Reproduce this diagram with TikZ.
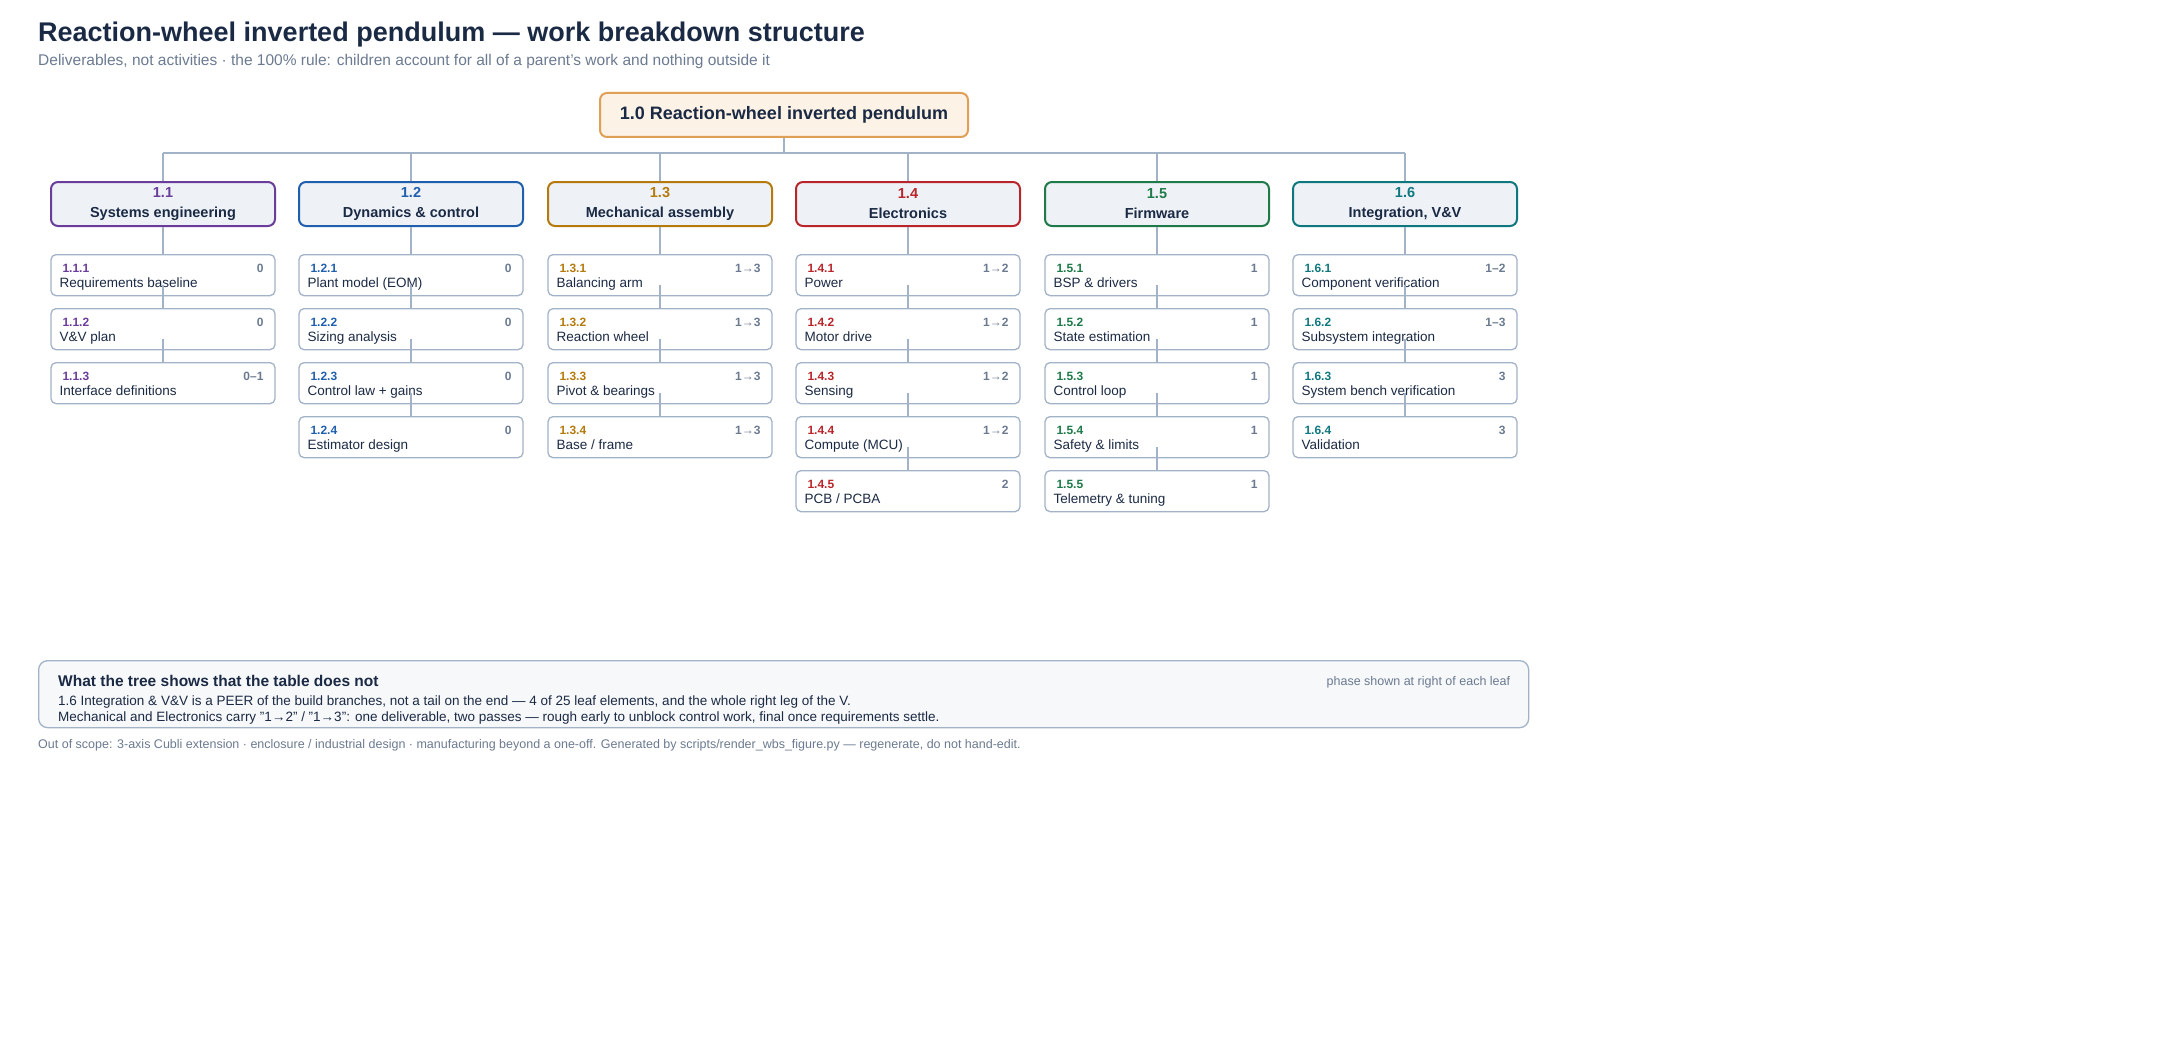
\documentclass[tikz,border=0pt]{standalone}
\usepackage{fontspec}
\setmainfont{Liberation Sans}
\usetikzlibrary{positioning}
\usetikzlibrary{calc}
\definecolor{ink}{HTML}{1B2A44}
\definecolor{muted}{HTML}{6B7A90}
\definecolor{wire}{HTML}{A3B3C7}
\definecolor{panel}{HTML}{EEF2F7}
\definecolor{note}{HTML}{F7F8FA}
\definecolor{rootfill}{HTML}{FDF2E6}
\definecolor{rootline}{HTML}{DFA055}
\definecolor{cA}{HTML}{6A3D9A}
\definecolor{cB}{HTML}{1F5FAD}
\definecolor{cC}{HTML}{B47A0C}
\definecolor{cD}{HTML}{B8262B}
\definecolor{cE}{HTML}{1E7A48}
\definecolor{cF}{HTML}{0F787E}
\tikzset{
  wbs/.style = {draw=wire, line width=1.3pt},
  rootbox/.style = {draw=rootline, fill=rootfill, line width=2pt, rounded corners=7pt,
    minimum width=368pt, minimum height=44pt, font=\fontsize{18}{22}\selectfont\bfseries, text=ink},
  branch/.style = {fill=panel, line width=2pt, rounded corners=7pt,
    minimum width=224pt, minimum height=44pt, align=center, text=ink,
    font=\fontsize{14.5}{20}\selectfont\bfseries},
  leaf/.style = {draw=wire, fill=white, line width=1.3pt, rounded corners=5pt,
    minimum width=224pt, minimum height=41pt},
}
\begin{document}
\begin{tikzpicture}[x=1pt,y=-1pt]
  % heading
  \node [anchor=base west, inner sep=0pt, text=ink, font=\fontsize{27}{32}\selectfont\bfseries] (title) at (38,42)
    {Reaction-wheel inverted pendulum — work breakdown structure};
  \node [anchor=base west, inner sep=0pt, text=muted, font=\fontsize{15.5}{19}\selectfont] (subtitle) at (38,66)
    {Deliverables, not activities · the 100\% rule: children account for all of a parent's work and nothing outside it};

  % root
  \node [rootbox] (root) at (784,115) {1.0 Reaction-wheel inverted pendulum};
  \coordinate (bus) at (784,153);
  \draw [wbs] (root.south) -- (bus);
  \coordinate (busL) at (163,153);
  \coordinate (busR) at (1405,153);
  \draw [wbs] (busL) -- (busR);

  % branches
  \foreach \n/\x/\col/\name in {1/163/cA/Systems engineering, 2/411/cB/Dynamics \& control,
      3/660/cC/Mechanical assembly, 4/908/cD/Electronics, 5/1157/cE/Firmware, 6/1405/cF/{Integration, V\&V}}{
    \node [branch, draw=\col] (b\n) at (\x,204) {\textcolor{\col}{1.\n}\\\name};
    \coordinate (t\n) at (\x,153);
    \draw [wbs] (t\n) -- (b\n.north);
  }

  % leaves: branch / index / phase / name
  \foreach \n/\col/\i/\ph/\name in {
      1/cA/1/0/Requirements baseline, 1/cA/2/0/V\&V plan, 1/cA/3/0–1/Interface definitions,
      2/cB/1/0/Plant model (EOM), 2/cB/2/0/Sizing analysis, 2/cB/3/0/Control law + gains, 2/cB/4/0/Estimator design,
      3/cC/1/1→3/Balancing arm, 3/cC/2/1→3/Reaction wheel, 3/cC/3/1→3/Pivot \& bearings, 3/cC/4/1→3/{Base / frame},
      4/cD/1/1→2/Power, 4/cD/2/1→2/Motor drive, 4/cD/3/1→2/Sensing, 4/cD/4/1→2/Compute (MCU), 4/cD/5/2/{PCB / PCBA},
      5/cE/1/1/BSP \& drivers, 5/cE/2/1/State estimation, 5/cE/3/1/Control loop, 5/cE/4/1/Safety \& limits, 5/cE/5/1/Telemetry \& tuning,
      6/cF/1/1–2/Component verification, 6/cF/2/1–3/Subsystem integration, 6/cF/3/3/System bench verification, 6/cF/4/3/Validation}{
    \node [leaf, below=27pt+\i*54pt-54pt of b\n.south] (l\n\i) {};
    \node [anchor=base west, inner sep=0pt, text=\col, font=\fontsize{12}{14}\selectfont\bfseries] (id\n\i)
      at ($(l\n\i.north west)+(12,18)$) {1.\n.\i};
    \node [anchor=base east, inner sep=0pt, text=muted, font=\fontsize{12}{14}\selectfont\bfseries] (ph\n\i)
      at ($(l\n\i.north east)+(-12,18)$) {\ph};
    \node [anchor=base west, inner sep=0pt, text=ink, font=\fontsize{13.5}{16}\selectfont] (nm\n\i)
      at ($(l\n\i.north west)+(9,33)$) {\name};
  }

  % spines
  \foreach \n/\k in {1/3, 2/4, 3/4, 4/5, 5/5, 6/4}{
    \draw [wbs] (b\n.south) -- (l\n1.north);
    \foreach \i [evaluate=\i as \j using int(\i+1)] in {1,...,\k}{
      \ifnum\i<\k
        \coordinate (s\n\i) at ($(l\n\i.center)+(0,10)$);
        \draw [wbs] (s\n\i) -- (l\n\j.north);
      \fi
    }
  }

  % note panel
  \node [draw=wire, fill=note, line width=1.3pt, rounded corners=9pt, minimum width=1490pt,
    minimum height=67pt, anchor=north west] (notes) at (38,660) {};
  \node [anchor=base west, inner sep=0pt, text=ink, font=\fontsize{15.5}{19}\selectfont\bfseries] (notehead)
    at ($(notes.north west)+(20,26)$) {What the tree shows that the table does not};
  \node [anchor=base east, inner sep=0pt, text=muted, font=\fontsize{12.5}{15}\selectfont] (notekey)
    at ($(notes.north east)+(-19,25)$) {phase shown at right of each leaf};
  \node [anchor=base west, inner sep=0pt, text=ink, font=\fontsize{13.5}{16}\selectfont] (note1)
    at ($(notes.north west)+(20,45)$) {1.6 Integration \& V\&V is a PEER of the build branches, not a tail on the end — 4 of 25 leaf elements, and the whole right leg of the V.};
  \node [anchor=base west, inner sep=0pt, text=ink, font=\fontsize{13.5}{16}\selectfont] (note2)
    at ($(notes.north west)+(20,61)$) {Mechanical and Electronics carry "1→2" / "1→3": one deliverable, two passes — rough early to unblock control work, final once requirements settle.};

  % footer
  \node [anchor=base west, inner sep=0pt, text=muted, font=\fontsize{12.5}{15}\selectfont] (footer) at (38,748)
    {Out of scope: 3-axis Cubli extension · enclosure / industrial design · manufacturing beyond a one-off. Generated by scripts/render\_wbs\_figure.py — regenerate, do not hand-edit.};

  \pgfresetboundingbox
  \useasboundingbox (0,0) rectangle (2160,1054);
\end{tikzpicture}
\end{document}
